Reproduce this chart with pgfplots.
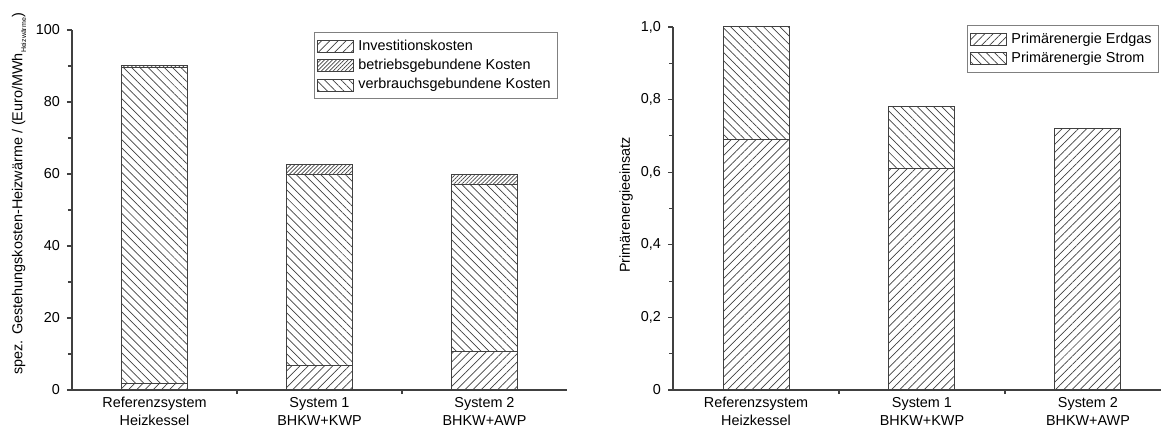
\documentclass[border=0pt]{standalone}
\usepackage{fontspec}
\setmainfont{Liberation Sans}
\usepackage{pgfplots}
\pgfplotsset{compat=1.18}
\usetikzlibrary{patterns.meta}

\definecolor{ln}{HTML}{404040}

\tikzset{
 pinv/.style={pattern={Lines[angle=45,distance=2.9pt,line width=0.35pt]}, pattern color=ln},
 pbet/.style={pattern={Lines[angle=45,distance=1.4pt,line width=0.35pt]}, pattern color=ln},
 pver/.style={pattern={Lines[angle=-45,distance=2.9pt,line width=0.35pt]}, pattern color=ln},
}

\newcommand{\fs}{\fontsize{7.2}{8.6}\selectfont}

\pgfplotsset{
 common/.style={
  scale only axis,
  axis lines*=left,
  axis line style={line width=0.7pt, color=ln},
  ybar stacked, bar width=33pt,
  xmin=-0.5,
  xtick={0,1,2},
  xticklabels={Referenzsystem\\Heizkessel, System 1\\BHKW+KWP, System 2\\BHKW+AWP},
  xticklabel style={align=center, font=\fontsize{7.2}{9}\selectfont, yshift=2.5pt},
  major x tick style={draw=none},
  minor xtick={0.5,1.5},
  tick align=outside,
  major tick length=2.5pt, minor tick length=2pt,
  every tick/.style={line width=0.6pt, color=ln},
  ymin=0,
  minor y tick num=1,
  yticklabel style={font=\fs},
  ylabel style={font=\fs},
  legend style={font=\fs, draw=gray, line width=0.5pt, inner sep=1.5pt, row sep=-1pt, cells={anchor=west}},
  legend image code/.code={\draw[#1] (0pt,-3pt) rectangle (18pt,3pt);},
  /pgf/number format/assume math mode=true,
  every axis plot/.append style={draw=ln, line width=0.5pt},
 }
}

\begin{document}
\begin{tikzpicture}
\begin{axis}[common,
  at={(0pt,0pt)}, anchor=south west,
  width=247.5pt, height=180pt,
  xmax=2.5, ymax=100,
  ytick={0,20,40,60,80,100},
  ylabel={spez. Gestehungskosten-Heizwärme / (Euro/MWh\raisebox{-0.5ex}{\fontsize{3.5}{4}\selectfont Heizwärme})},
  ylabel style={at={(axis description cs:-0.107,0.545)}, anchor=center},
  legend style={at={(0.982,0.994)}, anchor=north east},
]
\addlegendimage{pinv, draw=ln}
\addlegendentry{Investitionskosten}
\addlegendimage{pbet, draw=ln}
\addlegendentry{betriebsgebundene Kosten}
\addlegendimage{pver, draw=ln}
\addlegendentry{verbrauchsgebundene Kosten}
\addplot[pinv] coordinates {(0,1.8) (1,6.9) (2,10.8)};
\addplot[pver] coordinates {(0,87.9) (1,52.9) (2,46.4)};
\addplot[pbet] coordinates {(0,0.3) (1,2.8) (2,2.8)};
\end{axis}

\begin{axis}[common,
  at={(300.5pt,0pt)}, anchor=south west,
  width=244pt, height=181.5pt,
  xmax=2.44, ymax=1,
  ytick={0,0.2,0.4,0.6,0.8,1},
  yticklabels={0,{0,2},{0,4},{0,6},{0,8},{1,0}},
  ylabel={Primärenergieeinsatz},
  ylabel style={at={(axis description cs:-0.096,0.51)}, anchor=center},
  legend style={at={(0.996,1.005)}, anchor=north east},
]
\addplot[pinv] coordinates {(0,0.69) (1,0.61) (2,0.72)};
\addlegendentry{Primärenergie Erdgas}
\addplot[pver] coordinates {(0,0.31) (1,0.17) (2,0)};
\addlegendentry{Primärenergie Strom}
\end{axis}
\pgfresetboundingbox
\path[use as bounding box] (-36pt,-19pt) rectangle (544.5pt,195pt);
\end{tikzpicture}
\end{document}
